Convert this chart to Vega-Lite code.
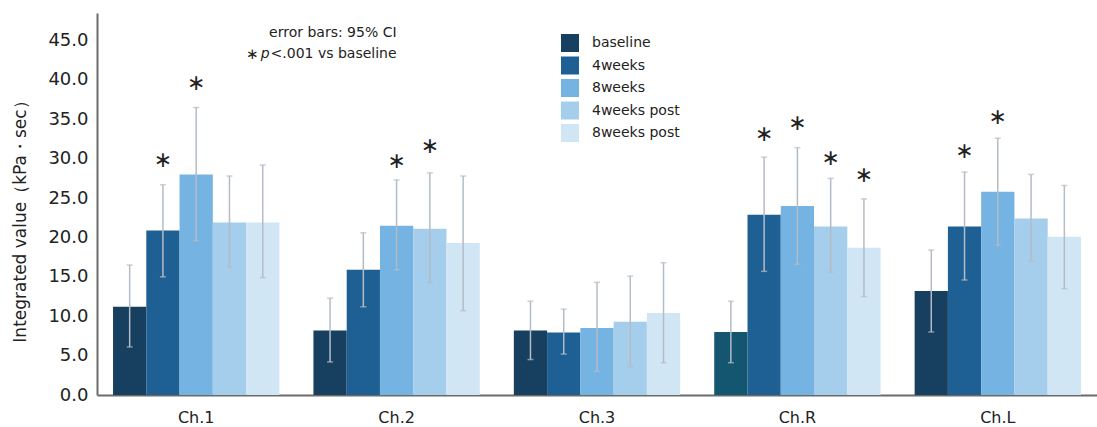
{
  "$schema": "https://vega.github.io/schema/vega-lite/v6.json",
  "width": 1000,
  "height": 382,
  "autosize": {"type": "none"},
  "padding": {"left": 97, "top": 13, "right": 0, "bottom": 32},
  "background": "white",
  "config": {
    "view": {"stroke": null},
    "font": "DejaVu Sans",
    "axis": {"labelColor": "#222222", "titleColor": "#222222", "titleFontWeight": "normal", "domainColor": "#6b6b6b", "domainWidth": 2, "ticks": false, "grid": false},
    "legend": {"labelColor": "#222222"}
  },
  "datasets": {
    "bars": [
      {"channel": "Ch.1", "series": "baseline", "value": 11.2, "lo": 6.1, "hi": 16.5, "star": null},
      {"channel": "Ch.1", "series": "4weeks", "value": 20.9, "lo": 15.0, "hi": 26.7, "star": 29.8},
      {"channel": "Ch.1", "series": "8weeks", "value": 28.0, "lo": 19.6, "hi": 36.5, "star": 39.6},
      {"channel": "Ch.1", "series": "4weeks post", "value": 21.9, "lo": 16.2, "hi": 27.8, "star": null},
      {"channel": "Ch.1", "series": "8weeks post", "value": 21.9, "lo": 14.9, "hi": 29.2, "star": null},
      {"channel": "Ch.2", "series": "baseline", "value": 8.2, "lo": 4.2, "hi": 12.3, "star": null},
      {"channel": "Ch.2", "series": "4weeks", "value": 15.9, "lo": 11.2, "hi": 20.6, "star": null},
      {"channel": "Ch.2", "series": "8weeks", "value": 21.5, "lo": 15.9, "hi": 27.3, "star": 29.7},
      {"channel": "Ch.2", "series": "4weeks post", "value": 21.1, "lo": 14.3, "hi": 28.2, "star": 31.6},
      {"channel": "Ch.2", "series": "8weeks post", "value": 19.3, "lo": 10.7, "hi": 27.8, "star": null},
      {"channel": "Ch.3", "series": "baseline", "value": 8.2, "lo": 4.5, "hi": 11.9, "star": null},
      {"channel": "Ch.3", "series": "4weeks", "value": 7.95, "lo": 5.2, "hi": 10.9, "star": null},
      {"channel": "Ch.3", "series": "8weeks", "value": 8.5, "lo": 3.0, "hi": 14.3, "star": null},
      {"channel": "Ch.3", "series": "4weeks post", "value": 9.3, "lo": 3.6, "hi": 15.1, "star": null},
      {"channel": "Ch.3", "series": "8weeks post", "value": 10.4, "lo": 4.1, "hi": 16.8, "star": null},
      {"channel": "Ch.R", "series": "baseline", "value": 8.0, "lo": 4.1, "hi": 11.9, "star": null},
      {"channel": "Ch.R", "series": "4weeks", "value": 22.9, "lo": 15.7, "hi": 30.2, "star": 33.1},
      {"channel": "Ch.R", "series": "8weeks", "value": 24.0, "lo": 16.6, "hi": 31.4, "star": 34.5},
      {"channel": "Ch.R", "series": "4weeks post", "value": 21.4, "lo": 15.6, "hi": 27.5, "star": 30.1},
      {"channel": "Ch.R", "series": "8weeks post", "value": 18.7, "lo": 12.5, "hi": 24.9, "star": 27.9},
      {"channel": "Ch.L", "series": "baseline", "value": 13.2, "lo": 8.0, "hi": 18.4, "star": null},
      {"channel": "Ch.L", "series": "4weeks", "value": 21.4, "lo": 14.6, "hi": 28.3, "star": 31.0},
      {"channel": "Ch.L", "series": "8weeks", "value": 25.8, "lo": 19.0, "hi": 32.6, "star": 35.3},
      {"channel": "Ch.L", "series": "4weeks post", "value": 22.4, "lo": 17.0, "hi": 28.0, "star": null},
      {"channel": "Ch.L", "series": "8weeks post", "value": 20.1, "lo": 13.5, "hi": 26.6, "star": null}
    ],
    "notes": [
      {"label": "error bars: 95% CI", "yv": 45.9},
      {"label": "<.001 vs baseline", "yv": 43.3}
    ],
    "pnote": [{"label": "p", "yv": 43.3}],
    "snote": [{"label": "∗", "yv": 43.3}]
  },
  "layer": [
    {
      "data": {"name": "bars"},
      "mark": {"type": "bar", "strokeWidth": 0},
      "encoding": {
        "x": {"field": "channel", "type": "nominal", "sort": ["Ch.1", "Ch.2", "Ch.3", "Ch.R", "Ch.L"],
              "scale": {"paddingInner": 0.17, "paddingOuter": 0.08},
              "axis": {"title": null, "labelFontSize": 16, "labelPadding": 14, "labelAngle": 0}},
        "xOffset": {"field": "series", "type": "nominal", "sort": ["baseline", "4weeks", "8weeks", "4weeks post", "8weeks post"], "scale": {"paddingInner": 0, "paddingOuter": 0}},
        "y": {"field": "value", "type": "quantitative",
              "scale": {"domain": [0, 48.5], "nice": false, "zero": true},
              "axis": {"title": "Integrated value（kPa・sec）", "titleFontSize": 17, "titlePadding": 18, "titleY": 204, "labelFontSize": 18, "labelPadding": 9, "values": [0, 5, 10, 15, 20, 25, 30, 35, 40, 45], "format": ".1f"}},
        "color": {
          "condition": {"test": "datum.channel === 'Ch.R' && datum.series === 'baseline'", "value": "#145570"},
          "field": "series", "type": "nominal",
          "sort": ["baseline", "4weeks", "8weeks", "4weeks post", "8weeks post"],
          "scale": {"domain": ["baseline", "4weeks", "8weeks", "4weeks post", "8weeks post"], "range": ["#173f5f", "#1f6094", "#74b3e2", "#a5cdec", "#d1e6f5"]},
          "legend": {"title": null, "orient": "none", "legendX": 464, "legendY": 21, "symbolType": "square", "symbolSize": 324, "symbolStrokeWidth": 0, "labelFontSize": 14, "rowPadding": 4.5, "labelOffset": 13}
        }
      }
    },
    {
      "data": {"name": "bars"},
      "mark": {"type": "rule", "color": "#b3bcc5", "strokeWidth": 1.5},
      "encoding": {
        "x": {"field": "channel", "type": "nominal", "sort": ["Ch.1", "Ch.2", "Ch.3", "Ch.R", "Ch.L"]},
        "xOffset": {"field": "series", "type": "nominal", "sort": ["baseline", "4weeks", "8weeks", "4weeks post", "8weeks post"]},
        "y": {"field": "lo", "type": "quantitative"},
        "y2": {"field": "hi"}
      }
    },
    {
      "data": {"name": "bars"},
      "mark": {"type": "tick", "color": "#b3bcc5", "thickness": 1.5, "size": 6},
      "encoding": {
        "x": {"field": "channel", "type": "nominal", "sort": ["Ch.1", "Ch.2", "Ch.3", "Ch.R", "Ch.L"]},
        "xOffset": {"field": "series", "type": "nominal", "sort": ["baseline", "4weeks", "8weeks", "4weeks post", "8weeks post"]},
        "y": {"field": "lo", "type": "quantitative"}
      }
    },
    {
      "data": {"name": "bars"},
      "mark": {"type": "tick", "color": "#b3bcc5", "thickness": 1.5, "size": 6},
      "encoding": {
        "x": {"field": "channel", "type": "nominal", "sort": ["Ch.1", "Ch.2", "Ch.3", "Ch.R", "Ch.L"]},
        "xOffset": {"field": "series", "type": "nominal", "sort": ["baseline", "4weeks", "8weeks", "4weeks post", "8weeks post"]},
        "y": {"field": "hi", "type": "quantitative"}
      }
    },
    {
      "data": {"name": "bars"},
      "transform": [{"filter": "datum.star != null"}],
      "mark": {"type": "text", "fontSize": 22, "baseline": "middle", "align": "center", "color": "#222222"},
      "encoding": {
        "x": {"field": "channel", "type": "nominal", "sort": ["Ch.1", "Ch.2", "Ch.3", "Ch.R", "Ch.L"]},
        "xOffset": {"field": "series", "type": "nominal", "sort": ["baseline", "4weeks", "8weeks", "4weeks post", "8weeks post"]},
        "y": {"field": "star", "type": "quantitative"},
        "text": {"value": "∗"}
      }
    },
    {
      "data": {"name": "notes"},
      "mark": {"type": "text", "fontSize": 14, "baseline": "middle", "align": "right", "color": "#222222"},
      "encoding": {
        "x": {"datum": "Ch.2"},
        "y": {"field": "yv", "type": "quantitative"},
        "text": {"field": "label"}
      }
    },
    {
      "data": {"name": "pnote"},
      "mark": {"type": "text", "fontSize": 14, "baseline": "middle", "align": "right", "fontStyle": "italic", "dx": -127, "color": "#222222"},
      "encoding": {
        "x": {"datum": "Ch.2"},
        "y": {"field": "yv", "type": "quantitative"},
        "text": {"field": "label"}
      }
    },
    {
      "data": {"name": "snote"},
      "mark": {"type": "text", "fontSize": 15, "baseline": "middle", "align": "right", "dx": -138, "color": "#222222"},
      "encoding": {
        "x": {"datum": "Ch.2"},
        "y": {"field": "yv", "type": "quantitative"},
        "text": {"field": "label"}
      }
    }
  ]
}
